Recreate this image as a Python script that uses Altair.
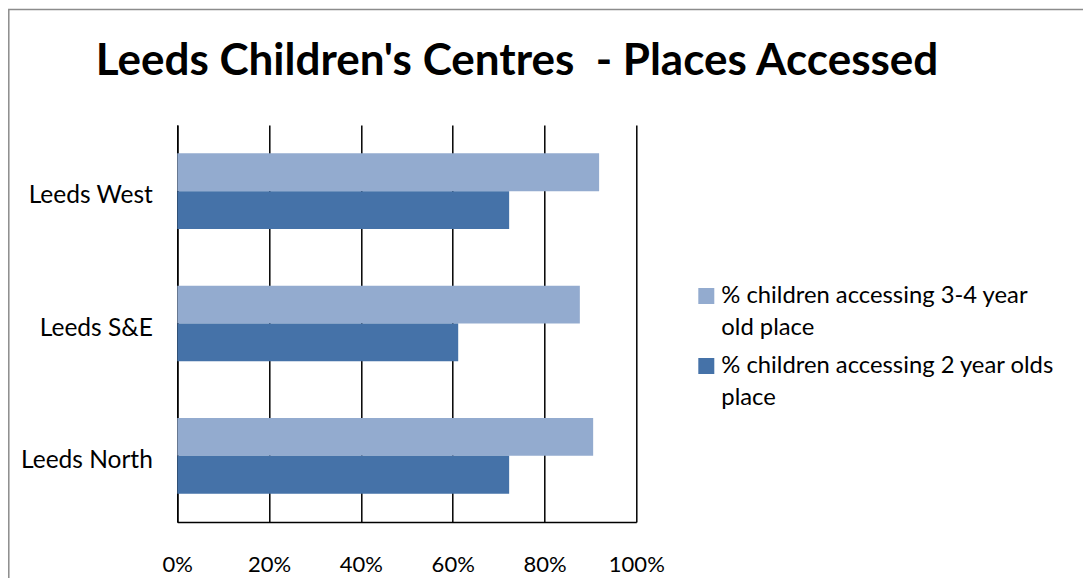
import altair as alt
import pandas as pd

title_text = "Leeds Children's Centres\u00a0 - Places Accessed"
centres = ["Leeds West", "Leeds S&E", "Leeds North"]
series = ["% children accessing 3-4 year old place", "% children accessing 2 year olds place"]
legend_lines = [["% children accessing 3-4 year", "old place"], ["% children accessing 2 year olds", "place"]]
values_34 = [91.9, 87.7, 90.6]
values_2 = [72.3, 61.2, 72.3]
x_ticks = [0, 20, 40, 60, 80, 100]
colors = ["#93abcf", "#4572a8"]

rows = []
for c, a, b in zip(centres, values_34, values_2):
    rows.append({"centre": c, "series": series[0], "value": a})
    rows.append({"centre": c, "series": series[1], "value": b})
df = pd.DataFrame(rows)

leg = pd.DataFrame({"series": series, "lines": legend_lines})

FONT = "Lato"
color_scale = alt.Scale(domain=series, range=colors)

bars = alt.Chart(df).mark_bar(opacity=1).encode(
    y=alt.Y("centre:N", sort=centres,
            scale=alt.Scale(paddingInner=0.428, paddingOuter=0.214),
            axis=alt.Axis(title=None, ticks=False, tickSize=0, domain=True, domainColor="black",
                          domainWidth=1.5, labelFont=FONT, labelFontSize=24.5, labelColor="black",
                          labelPadding=25, labelOffset=5, grid=False)),
    yOffset=alt.YOffset("series:N", sort=series),
    x=alt.X("value:Q", scale=alt.Scale(domain=[0, 100], nice=False),
            axis=alt.Axis(title=None, values=x_ticks, labelExpr="datum.value + '%'",
                          labelFlush=False, labelOverlap=False,
                          ticks=False, tickSize=0, domain=True, domainColor="black", domainWidth=1.5,
                          grid=True, gridColor="black", gridWidth=1.5, labelFont=FONT,
                          labelFontSize=22, labelColor="black", labelPadding=32)),
    color=alt.Color("series:N", scale=color_scale, legend=None),
)

leg_y = alt.Y("series:N", sort=series, axis=None, scale=alt.Scale(domain=series, range=[171, 241], padding=0))

leg_sq = alt.Chart(leg).mark_square(size=256, filled=True, opacity=1).encode(
    x=alt.value(529),
    y=leg_y,
    color=alt.Color("series:N", scale=color_scale, legend=None),
)

leg_txt = alt.Chart(leg).mark_text(align="left", baseline="alphabetic", dy=7, lineHeight=32,
                                   font=FONT, fontSize=23.8, color="black").encode(
    x=alt.value(544),
    y=leg_y,
    text="lines:N",
)

title = alt.Chart(alt.Data(values=[{"t": title_text}])).mark_text(
    align="center", baseline="alphabetic", font=FONT, fontSize=44, fontWeight="bold", color="black"
).encode(x=alt.value(339.7), y=alt.value(-50), text="t:N")

frame = alt.Chart(alt.Data(values=[{}])).mark_rect(fillOpacity=0, stroke="#8c8c8c", strokeWidth=1.5).encode(
    x=alt.value(-168.5), x2=alt.value(1100), y=alt.value(-115.5), y2=alt.value(700)
)

chart = alt.layer(frame, bars, leg_sq, leg_txt, title).resolve_scale(y="independent").properties(
    width=459, height=397,
    autosize=alt.AutoSizeParams(type="none"),
    padding={"left": 169.3, "top": 117, "right": 446.7, "bottom": 56},
).configure_view(strokeWidth=0)

chart.save("out.html", embed_options={"renderer": "svg", "actions": False})
